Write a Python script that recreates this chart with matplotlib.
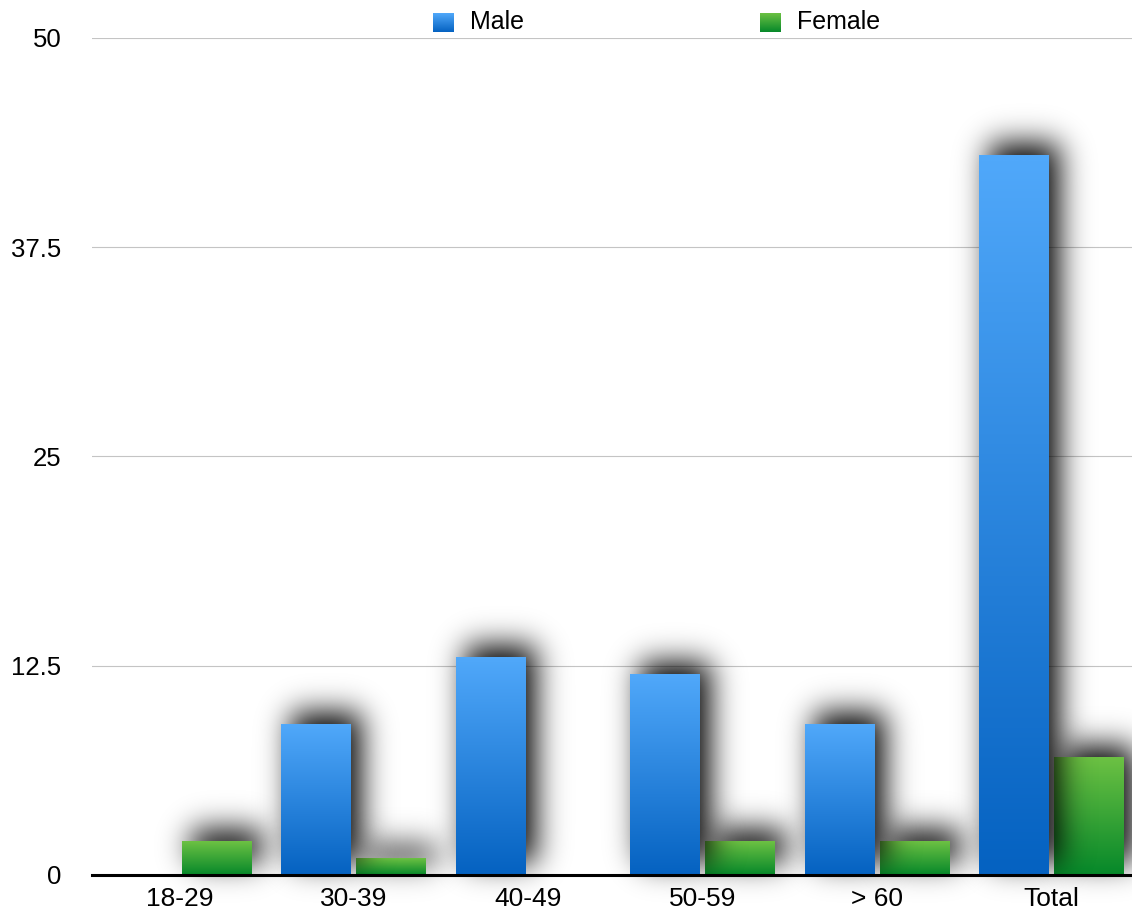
import math
import numpy as np
import matplotlib
matplotlib.use("Agg")
import matplotlib.pyplot as plt
from matplotlib.colors import to_rgb

plt.rcParams['font.family'] = ['Liberation Sans', 'DejaVu Sans']

# age groups and counts per sex
categories = ['18-29', '30-39', '40-49', '50-59', '> 60', 'Total']
male = [0, 9, 13, 12, 9, 43]
female = [2, 1, 0, 2, 2, 7]
y_ticks = [0, 12.5, 25, 37.5, 50]
y_tick_labels = ['0', '12.5', '25', '37.5', '50']

MALE_TOP, MALE_BOT = '#50a8fa', '#0562c1'
FEMALE_TOP, FEMALE_BOT = '#6cc143', '#06882a'

W, H, DPI = 1132, 917, 100
fig = plt.figure(figsize=(W / DPI, H / DPI), dpi=DPI)
ax = fig.add_axes([92 / W, 42 / H, 1047 / W, 837 / H])
ax.set_xlim(-0.5, len(categories) - 0.5)
ax.set_ylim(0, 50)

x = np.arange(len(categories))
bw, off = 0.40, 0.215


def gradient(top, bot, n=64):
    t = np.linspace(0, 1, n)[:, None]
    c = (1 - t) * np.array(to_rgb(top)) + t * np.array(to_rgb(bot))
    return c[:, None, :]


_erf = np.vectorize(math.erf)


def shadow_layer(bars, sigma=15.0, dx=10.0, dy=12.0, strength=1.0):
    # soft drop shadow for a set of bars, computed in figure pixels
    px = np.arange(W) + 0.5
    py = np.arange(H) + 0.5
    k = sigma * math.sqrt(2)
    acc = np.zeros((H, W))
    for b in bars:
        (x0, y0), (x1, y1) = ax.transData.transform(
            [(b.get_x(), b.get_y()), (b.get_x() + b.get_width(), b.get_y() + b.get_height())])
        if y1 - y0 < 0.5:
            continue
        x0, x1, y0, y1 = x0 + dx, x1 + dx, y0 + dy, y1 + dy
        gx = 0.5 * (_erf((px - x0) / k) - _erf((px - x1) / k))
        gy = 0.5 * (_erf((py - y0) / k) - _erf((py - y1) / k))
        acc = 1 - (1 - acc) * (1 - np.outer(gy, gx))
    rgba = np.zeros((H, W, 4))
    rgba[..., 3] = np.clip(acc, 0, 1) * strength
    return rgba


def draw_series(values, pos, top, bot, z):
    bars = ax.bar(pos, values, bw, color=bot, zorder=z + 1, linewidth=0)
    sh = shadow_layer(bars)
    ax.imshow(sh, extent=(0, 1, 0, 1), transform=fig.transFigure, origin='lower',
              aspect='auto', interpolation='bilinear', zorder=z, clip_on=False)
    grad = gradient(top, bot)
    for b in bars:
        if b.get_height() <= 0:
            continue
        ax.imshow(grad, extent=(b.get_x(), b.get_x() + b.get_width(), 0, b.get_height()),
                  aspect='auto', interpolation='bilinear', zorder=z + 2)


# female first so the male shadows fall across the green bars
draw_series(female, x + off, FEMALE_TOP, FEMALE_BOT, 3)
draw_series(male, x - off, MALE_TOP, MALE_BOT, 6)

ax.set_xlim(-0.5, len(categories) - 0.5)
ax.set_ylim(0, 50)

ax.set_yticks(y_ticks)
ax.set_yticklabels(y_tick_labels)
ax.set_xticks(x)
ax.set_xticklabels(categories)
ax.tick_params(axis='y', length=0, pad=22, labelsize=18.5)
ax.tick_params(axis='x', length=0, pad=9, labelsize=19)
ax.grid(axis='y', color='#c4c4c4', linewidth=0.8, zorder=0)
ax.set_axisbelow(True)
for s in ax.spines.values():
    s.set_visible(False)
ax.axhline(0, color='black', linewidth=2.2, zorder=10, clip_on=False)

# legend above the plot with gradient swatches
for label, top, bot, sx, tx in [('Male', MALE_TOP, MALE_BOT, 433, 470),
                                ('Female', FEMALE_TOP, FEMALE_BOT, 760, 797)]:
    sw = fig.add_axes([sx / W, (H - 32) / H, 21 / W, 19 / H])
    sw.imshow(gradient(top, bot), aspect='auto', interpolation='bilinear')
    sw.axis('off')
    fig.text(tx / W, (H - 22) / H, label, fontsize=18, va='center', ha='left')

fig.savefig('out.png', dpi=DPI)
